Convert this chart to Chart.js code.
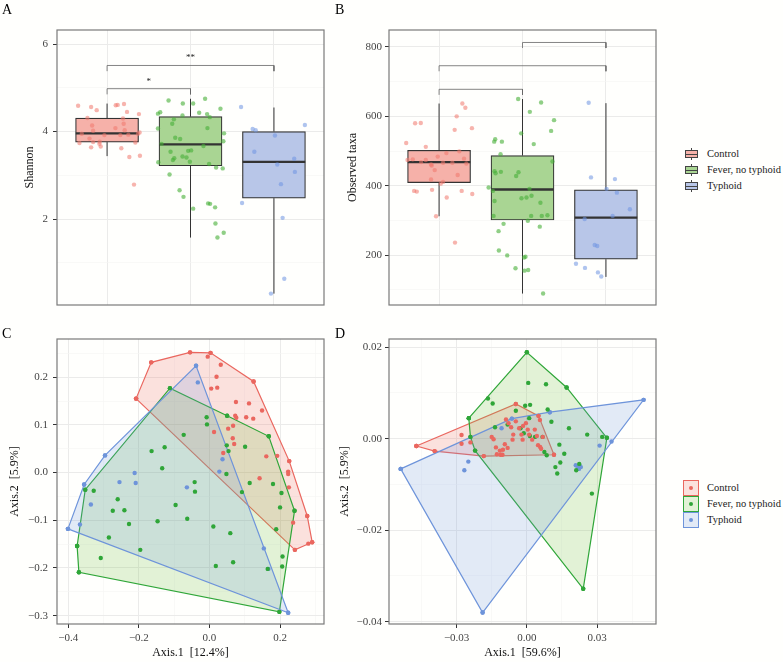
<!DOCTYPE html>
<html>
<head>
<meta charset="utf-8">
<script src="https://cdn.jsdelivr.net/npm/chart.js@4.4.1/dist/chart.umd.min.js"></script>
<style>
  body { margin: 0; background: #fffffd; }
  #fig { position: relative; width: 783px; height: 662px; font-family: "Liberation Serif", serif; }
  #fig canvas { position: absolute; }
  .tag { position: absolute; font-size: 14px; line-height: 1; color: #000; }
  .leg { position: absolute; left: 683px; font-size: 10.5px; color: #1a1a1a; }
  .row { position: relative; height: 16px; line-height: 16px; padding-left: 24px; white-space: nowrap; }
  .bx { position: absolute; left: 2px; top: 2px; width: 13px; height: 12px; }
  .bx i { position: absolute; display: block; }
  .bx .w { left: 6px; top: 0; width: 1px; height: 12px; background: #444; }
  .bx .b { left: 0; top: 2px; width: 11px; height: 6px; border: 1px solid #444; }
  .bx .m { left: 1px; top: 5.5px; width: 11px; height: 1px; background: #444; }
  .pk { position: absolute; left: 0; top: 0; width: 14px; height: 14px; border: 1px solid; }
  .pk i { position: absolute; left: 5px; top: 5px; width: 4px; height: 4px; border-radius: 50%; display: block; }
</style>
</head>
<body>
<div id="fig">
  <canvas id="chartA" width="330" height="320" style="left:0;top:0"></canvas>
  <canvas id="chartB" width="330" height="320" style="left:330px;top:0"></canvas>
  <canvas id="chartC" width="330" height="342" style="left:0;top:320px"></canvas>
  <canvas id="chartD" width="330" height="342" style="left:330px;top:320px"></canvas>
  <div class="tag" style="left:2px;top:3px">A</div>
  <div class="tag" style="left:335px;top:3px">B</div>
  <div class="tag" style="left:2px;top:327px">C</div>
  <div class="tag" style="left:335px;top:327px">D</div>
  <div class="leg" id="legBox" style="top:146px"></div>
  <div class="leg" id="legPts" style="top:480px"></div>
</div>
<script>
const GROUPS = ['Control', 'Fever, no typhoid', 'Typhoid'];

// ---- panel A: Shannon ----
const A_Q1 = [3.76, 3.22, 2.48];
const A_MED = [3.96, 3.71, 3.31];
const A_Q3 = [4.31, 4.34, 4.00];
const A_LO = [3.44, 1.58, 0.30];
const A_HI = [4.64, 4.75, 4.55];
const A_TICKS = [2, 4, 6];
const A_MINOR = [1, 3, 5];
const A_PAIRS = [[1, 2], [1, 3]];
const A_BRACKET_Y = [4.98, 5.51];
const A_SIG = ['*', '**'];
const A_CONTROL = [[0.653,4.59],[0.809,4.56],[0.876,4.49],[1.104,4.60],[1.127,4.61],[1.203,4.63],[1.239,4.45],[1.382,4.40],
  [0.765,4.31],[1.191,4.30],[0.821,4.14],[1.199,4.18],[1.100,4.08],[1.211,4.03],[0.833,4.02],[0.697,3.95],[0.968,3.92],
  [1.159,3.92],[1.255,3.93],[1.390,3.98],[1.371,3.95],[0.789,3.84],[0.669,3.74],[0.833,3.76],[0.912,3.77],[1.339,3.75],
  [0.908,3.72],[0.809,3.64],[0.924,3.66],[1.171,3.62],[1.267,3.42],[1.394,3.45],[1.323,2.79]];
const A_FEVER = [[1.737,4.71],[1.908,4.64],[2.032,4.64],[2.175,4.75],[2.359,4.52],[1.610,4.41],[1.637,4.44],[2.104,4.43],
  [1.904,4.37],[1.801,4.28],[1.781,4.18],[2.199,4.40],[2.231,4.33],[1.610,4.07],[1.653,3.72],[1.817,3.86],[1.876,3.83],
  [2.203,4.08],[2.402,3.96],[2.394,3.78],[2.155,3.67],[1.761,3.54],[1.972,3.56],[2.008,3.57],[1.904,3.43],[1.952,3.41],
  [1.805,3.39],[1.789,3.35],[1.992,3.31],[1.614,3.30],[2.223,3.26],[2.307,3.18],[2.386,3.16],[1.749,3.02],[1.869,2.66],
  [1.916,2.51],[2.032,2.24],[2.211,2.36],[2.235,2.35],[2.295,2.27],[2.299,1.90],[2.323,1.58],[2.398,1.69]];
const A_TYPHOID = [[2.606,4.56],[2.745,4.06],[2.781,4.03],[3.012,3.91],[3.371,4.15],[2.765,3.54],[3.040,3.25],[3.243,3.38],
  [3.251,3.08],[3.084,2.80],[2.618,2.37],[3.104,2.03],[3.124,0.64],[2.964,0.30]];

// ---- panel B: observed taxa ----
const B_Q1 = [409, 301, 188];
const B_MED = [468, 389, 308];
const B_Q3 = [502, 487, 388];
const B_LO = [312, 89, 137];
const B_HI = [637, 650, 638];
const B_TICKS = [200, 400, 600, 800];
const B_MINOR = [100, 300, 500, 700];
const B_PAIRS = [[1, 2], [1, 3], [2, 3]];
const B_BRACKET_Y = [678, 746, 813];
const B_CONTROL = [[0.606,523],[0.713,580],[0.781,581],[0.841,512],[1.279,637],[1.315,625],[1.211,600],[1.187,561],
  [1.394,566],[0.622,474],[0.685,476],[0.785,468],[0.841,474],[0.984,484],[0.904,461],[0.948,445],[0.904,418],[0.912,458],
  [1.088,494],[1.048,466],[1.159,466],[1.243,499],[1.299,478],[1.327,464],[1.223,431],[1.048,411],[1.020,406],[0.701,385],
  [0.733,383],[0.916,388],[1.092,366],[1.271,385],[1.398,376],[0.964,312],[1.191,236]];
const B_FEVER = [[1.948,650],[2.088,613],[2.223,640],[2.378,589],[2.343,558],[1.984,551],[2.135,520],[1.673,534],
  [1.661,527],[1.753,527],[1.737,491],[1.665,442],[1.677,436],[1.741,440],[1.594,395],[1.645,385],[1.952,439],[1.924,428],
  [2.359,470],[1.665,356],[2.084,391],[2.108,371],[2.048,366],[1.988,364],[2.215,351],[2.104,313],[2.064,299],[2.231,313],
  [2.299,315],[1.773,290],[1.653,313],[1.713,269],[2.207,282],[1.717,213],[1.817,199],[1.916,162],[2.020,193],[2.036,195],
  [2.024,155],[2.068,157],[2.247,89]];
const B_TYPHOID = [[2.793,639],[2.821,424],[3.108,419],[3.131,380],[3.080,313],[3.287,332],[2.745,304],[2.865,229],
  [2.896,226],[2.641,175],[2.749,163],[2.904,150],[2.944,138],[3.008,391]];

// ---- panel C: PCoA ----
const C_X_TICKS = [-0.4, -0.2, 0.0, 0.2];
const C_X_MINOR = [-0.3, -0.1, 0.1, 0.3];
const C_Y_TICKS = [-0.3, -0.2, -0.1, 0.0, 0.1, 0.2];
const C_Y_MINOR = [-0.25, -0.15, -0.05, 0.05, 0.15, 0.25];
const C_CONTROL = [[-0.165,0.231],[-0.055,0.252],[0.003,0.251],[-0.005,0.243],[0.032,0.226],[0.020,0.201],[0.005,0.176],
  [0.022,0.178],[0.125,0.191],[0.075,0.148],[0.112,0.145],[0.149,0.130],[0.073,0.119],[0.076,0.115],[0.104,0.116],
  [0.124,0.113],[0.013,0.085],[0.053,0.092],[0.067,0.098],[0.066,0.072],[0.070,0.060],[0.039,0.041],[0.161,0.034],
  [0.192,0.035],[0.226,0.024],[0.223,0.002],[0.223,-0.003],[0.142,-0.012],[0.225,-0.031],[0.237,-0.105],[0.277,-0.091],
  [0.291,-0.146],[0.280,-0.149],[0.242,-0.162],[-0.208,0.155]];
const C_FEVER = [[-0.112,0.177],[-0.008,0.116],[-0.007,0.101],[-0.073,0.079],[0.050,0.119],[0.168,0.076],[-0.164,0.045],
  [-0.127,0.053],[-0.134,0.009],[0.049,0.057],[0.054,0.045],[0.101,0.054],[0.048,-0.003],[-0.042,-0.020],[-0.041,-0.040],
  [0.114,-0.022],[0.180,-0.024],[0.204,-0.043],[0.092,-0.041],[0.200,-0.073],[0.241,-0.080],[-0.328,-0.038],[-0.352,-0.036],
  [-0.260,-0.056],[-0.274,-0.080],[-0.241,-0.079],[-0.228,-0.108],[-0.096,-0.068],[-0.147,-0.102],[-0.063,-0.097],
  [0.011,-0.113],[0.059,-0.127],[0.189,-0.119],[-0.285,-0.136],[-0.375,-0.154],[-0.196,-0.162],[-0.308,-0.179],
  [0.207,-0.176],[0.206,-0.197],[0.018,-0.196],[0.067,-0.188],[0.165,-0.202],[-0.370,-0.209],[0.198,-0.292]];
const C_TYPHOID = [[-0.038,0.224],[-0.033,0.189],[-0.296,0.036],[-0.355,-0.025],[-0.401,-0.118],[-0.367,-0.109],
  [-0.336,-0.067],[-0.255,-0.020],[-0.212,-0.001],[-0.209,-0.022],[-0.064,-0.031],[0.037,0.028],[0.028,0.002],
  [0.154,-0.159],[0.167,-0.202],[0.223,-0.294]];

// ---- panel D: PCoA ----
const D_X_TICKS = [-0.03, 0.00, 0.03];
const D_X_MINOR = [-0.045, -0.015, 0.015, 0.045];
const D_Y_TICKS = [-0.04, -0.02, 0.00, 0.02];
const D_Y_MINOR = [-0.03, -0.01, 0.01];
const D_CONTROL = [[-0.0472,-0.0016],[-0.0394,-0.0027],[-0.0279,0.0008],[-0.0279,-0.0011],[-0.0241,-0.0008],
  [-0.0184,-0.0038],[-0.0047,0.0076],[0.0050,0.0050],[0.0116,-0.0035],[-0.0150,0.0004],[-0.0142,-0.0001],
  [-0.0132,-0.0019],[-0.0115,-0.0026],[-0.0112,-0.0035],[-0.0102,-0.0024],[-0.0094,-0.0012],[-0.0089,0.0042],
  [-0.0078,0.0034],[-0.0067,0.0025],[-0.0058,0.0009],[-0.0047,0.0038],[-0.0033,0.0023],[-0.0023,0.0009],
  [-0.0016,0.0028],[-0.0004,0.0034],[0.0004,0.0020],[0.0010,0.0009],[0.0023,-0.0002],[0.0034,0.0020],[0.0043,0.0006],
  [0.0048,-0.0014],[0.0057,-0.0018],[0.0061,-0.0022],[0.0068,0.0004],[0.0056,0.0041],[-0.0018,-0.0002],
  [-0.0061,-0.0002],[-0.0082,-0.0020],[-0.0104,-0.0035],[-0.0128,-0.0034]];
const D_FEVER = [[0.0000,0.0189],[0.0006,0.0122],[0.0082,0.0119],[0.0170,0.0112],[-0.0166,0.0088],[-0.0146,0.0077],
  [-0.0007,0.0072],[0.0014,0.0074],[-0.0047,0.0061],[0.0089,0.0064],[-0.0248,0.0045],[0.0105,0.0037],[0.0010,0.0045],
  [-0.0082,0.0031],[-0.0136,0.0025],[-0.0027,0.0023],[-0.0013,0.0012],[0.0013,0.0006],[0.0035,0.0004],[0.0067,0.0004],
  [0.0180,0.0023],[0.0258,0.0009],[0.0322,0.0004],[0.0342,0.0002],[-0.0241,0.0004],[-0.0221,-0.0026],[0.0139,-0.0013],
  [0.0160,-0.0033],[0.0075,-0.0029],[0.0085,-0.0036],[0.0122,-0.0062],[0.0130,-0.0076],[0.0143,-0.0052],
  [0.0211,-0.0069],[0.0224,-0.0055],[0.0278,-0.0120],[0.0241,-0.0328]];
const D_TYPHOID = [[-0.0539,-0.0066],[-0.0189,-0.0380],[0.0499,0.0085],[0.0098,0.0058],[-0.0064,0.0044],
  [-0.0108,0.0023],[-0.0250,-0.0050],[-0.0267,-0.0069],[0.0311,-0.0015],[0.0362,-0.0006],[0.0209,-0.0058],
  [0.0217,-0.0061],[0.0226,-0.0059],[0.0231,-0.0062],[0.0223,-0.0066]];

// colours
const LINE_COLORS = ['#EA675F', '#2FA638', '#6E94DA'];
const HULL_FILLS = ['rgba(234,103,95,0.2)', 'rgba(110,190,60,0.2)', 'rgba(110,148,218,0.2)'];
const BOX_FILLS = ['#F6B1A9', '#A9D593', '#B8C6E8'];
const JITTER_COLORS = ['rgba(240,118,108,0.55)', 'rgba(70,175,55,0.6)', 'rgba(110,148,225,0.55)'];
const FONT = "'Liberation Serif', 'DejaVu Serif', serif";
const BOX_HALF = 0.375;

Chart.defaults.font.family = FONT;

const fmt = d => v => (v < 0 ? '\u2212' : '') + Math.abs(v).toFixed(d);

// monotone chain convex hull, closed
function hull(pts) {
  const p = pts.slice().sort((a, b) => a[0] - b[0] || a[1] - b[1]);
  const cross = (o, a, b) => (a[0] - o[0]) * (b[1] - o[1]) - (a[1] - o[1]) * (b[0] - o[0]);
  const lower = [], upper = [];
  for (const q of p) {
    while (lower.length >= 2 && cross(lower[lower.length - 2], lower[lower.length - 1], q) <= 0) lower.pop();
    lower.push(q);
  }
  for (let i = p.length - 1; i >= 0; i--) {
    const q = p[i];
    while (upper.length >= 2 && cross(upper[upper.length - 2], upper[upper.length - 1], q) <= 0) upper.pop();
    upper.push(q);
  }
  const h = lower.slice(0, -1).concat(upper.slice(0, -1));
  h.push(h[0]);
  return h;
}

function makeAxis(o) {
  const horiz = o.position === 'bottom';
  const showLabels = o.labels !== false;
  return {
    type: 'linear', position: o.position, min: o.min, max: o.max, offset: false,
    afterBuildTicks: s => {
      s.ticks = o.major.map(v => ({ value: v, minor: false }))
        .concat(o.minor.map(v => ({ value: v, minor: true })))
        .sort((a, b) => a.value - b.value);
    },
    afterFit: s => { if (horiz) s.height = o.size; else s.width = o.size; },
    grid: {
      offset: false,
      color: c => (c.tick && c.tick.minor) ? '#F5F5F4' : '#EBEBEA',
      lineWidth: c => (c.tick && c.tick.minor) ? 0.6 : 1,
      drawTicks: showLabels,
      tickLength: 4,
      tickWidth: 1,
      tickColor: c => (c.tick && c.tick.minor) ? 'rgba(0,0,0,0)' : '#333'
    },
    border: { display: false },
    ticks: {
      display: showLabels, autoSkip: false, maxRotation: 0, padding: o.pad || 4,
      color: '#444', font: { family: FONT, size: 11 },
      callback: (v, i, t) => t[i].minor ? '' : o.fmt(v)
    },
    title: o.title
      ? { display: true, text: o.title, color: '#111', font: { family: FONT, size: 12 }, padding: o.titlePad }
      : { display: false }
  };
}

const panelBorder = {
  id: 'panelBorder',
  afterDraw(chart) {
    const { ctx, chartArea: a } = chart;
    ctx.save();
    ctx.strokeStyle = '#7a7a7a';
    ctx.lineWidth = 1.2;
    ctx.strokeRect(a.left, a.top, a.right - a.left, a.bottom - a.top);
    ctx.restore();
  }
};

const sigLabels = {
  id: 'sigLabels',
  afterDatasetsDraw(chart, args, opts) {
    if (!opts || !opts.items) return;
    const { ctx, scales: { x, y } } = chart;
    ctx.save();
    ctx.fillStyle = '#222';
    ctx.font = "9px 'Liberation Serif', serif";
    ctx.textAlign = 'center';
    ctx.textBaseline = 'bottom';
    opts.items.forEach(it => ctx.fillText(it.text, x.getPixelForValue(it.x), y.getPixelForValue(it.y) - 3));
    ctx.restore();
  }
};

Chart.register(panelBorder, sigLabels);

function boxChart(id, c) {
  const ds = [];
  ds.push({
    type: 'bar',
    data: GROUPS.map((g, i) => ({ x: i + 1, y: [c.q1[i], c.q3[i]] })),
    backgroundColor: BOX_FILLS, borderColor: '#333', borderWidth: 1.2, borderSkipped: false,
    barThickness: 63, order: 5
  });
  const whisk = [], med = [], br = [];
  GROUPS.forEach((g, i) => {
    whisk.push({ x: i + 1, y: c.lo[i] }, { x: i + 1, y: c.q1[i] }, { x: i + 1, y: null },
      { x: i + 1, y: c.q3[i] }, { x: i + 1, y: c.hi[i] }, { x: i + 1, y: null });
    med.push({ x: i + 1 - BOX_HALF, y: c.med[i] }, { x: i + 1 + BOX_HALF, y: c.med[i] }, { x: i + 1, y: null });
  });
  c.pairs.forEach((p, k) => {
    const h = c.bracketY[k];
    br.push({ x: p[0], y: h - c.tip }, { x: p[0], y: h }, { x: p[1], y: h }, { x: p[1], y: h - c.tip }, { x: p[1], y: null });
  });
  ds.push({ type: 'line', data: whisk, borderColor: '#333', borderWidth: 1, pointRadius: 0, spanGaps: false, order: 4 });
  ds.push({ type: 'line', data: med, borderColor: '#333', borderWidth: 2.3, pointRadius: 0, spanGaps: false, order: 3 });
  ds.push({ type: 'line', data: br, borderColor: '#666', borderWidth: 0.8, pointRadius: 0, spanGaps: false, order: 2 });
  c.points.forEach((pts, i) => ds.push({
    type: 'scatter', data: pts.map(p => ({ x: p[0], y: p[1] })),
    backgroundColor: JITTER_COLORS[i], borderWidth: 0, pointRadius: 2.2, order: 1
  }));
  const sig = (c.sig || []).map((t, k) => ({ text: t, x: (c.pairs[k][0] + c.pairs[k][1]) / 2, y: c.bracketY[k] }));
  new Chart(document.getElementById(id), {
    type: 'bar',
    data: { datasets: ds },
    options: {
      responsive: false, animation: false, devicePixelRatio: 1,
      layout: { padding: c.padding },
      plugins: { legend: { display: false }, tooltip: { enabled: false }, sigLabels: { items: sig } },
      scales: {
        x: makeAxis({ position: 'bottom', min: 0.4, max: 3.6, major: [1, 2, 3], minor: [], labels: false, size: 0, fmt: String }),
        y: makeAxis({ position: 'left', min: c.min, max: c.max, major: c.ticks, minor: c.minor, size: c.ySize,
          fmt: fmt(0), title: c.title, titlePad: { top: c.titleTop }, pad: c.tickPad })
      }
    }
  });
}

function pcoaChart(id, c) {
  const ds = [];
  c.groups.forEach((pts, i) => ds.push({
    type: 'line', data: hull(pts).map(p => ({ x: p[0], y: p[1] })),
    borderColor: LINE_COLORS[i], backgroundColor: HULL_FILLS[i], borderWidth: 1.2,
    fill: 'shape', pointRadius: 2.2, pointBackgroundColor: LINE_COLORS[i], pointBorderWidth: 0,
    tension: 0, order: 5 - i
  }));
  c.groups.forEach((pts, i) => ds.push({
    type: 'scatter', data: pts.map(p => ({ x: p[0], y: p[1] })),
    backgroundColor: LINE_COLORS[i], borderWidth: 0, pointRadius: 2.2, order: 1
  }));
  new Chart(document.getElementById(id), {
    type: 'scatter',
    data: { datasets: ds },
    options: {
      responsive: false, animation: false, devicePixelRatio: 1,
      layout: { padding: c.padding },
      plugins: { legend: { display: false }, tooltip: { enabled: false } },
      scales: {
        x: makeAxis({ position: 'bottom', min: c.xMin, max: c.xMax, major: c.xTicks, minor: c.xMinor, size: 38,
          fmt: fmt(c.digits), title: c.xTitle, titlePad: { bottom: 2 }, pad: 4 }),
        y: makeAxis({ position: 'left', min: c.yMin, max: c.yMax, major: c.yTicks, minor: c.yMinor, size: c.ySize,
          fmt: fmt(c.digits), title: c.yTitle, titlePad: { top: 8 }, pad: c.tickPad })
      }
    }
  });
}

boxChart('chartA', {
  q1: A_Q1, med: A_MED, q3: A_Q3, lo: A_LO, hi: A_HI, points: [A_CONTROL, A_FEVER, A_TYPHOID],
  pairs: A_PAIRS, bracketY: A_BRACKET_Y, tip: 0.13, sig: A_SIG,
  min: 0.04, max: 6.32, ticks: A_TICKS, minor: A_MINOR,
  title: 'Shannon', titleTop: 23, ySize: 57, tickPad: 5,
  padding: { left: 0, top: 30, right: 6, bottom: 15 }
});
boxChart('chartB', {
  q1: B_Q1, med: B_MED, q3: B_Q3, lo: B_LO, hi: B_HI, points: [B_CONTROL, B_FEVER, B_TYPHOID],
  pairs: B_PAIRS, bracketY: B_BRACKET_Y, tip: 16,
  min: 56, max: 849, ticks: B_TICKS, minor: B_MINOR,
  title: 'Observed taxa', titleTop: 16, ySize: 59, tickPad: 3,
  padding: { left: 0, top: 30, right: 3, bottom: 15 }
});
pcoaChart('chartC', {
  groups: [C_CONTROL, C_FEVER, C_TYPHOID], digits: 1,
  xMin: -0.432, xMax: 0.3245, yMin: -0.3175, yMax: 0.280,
  xTicks: C_X_TICKS, xMinor: C_X_MINOR, yTicks: C_Y_TICKS, yMinor: C_Y_MINOR,
  xTitle: 'Axis.1  [12.4%]', yTitle: 'Axis.2  [5.9%]', ySize: 57, tickPad: 5,
  padding: { left: 0, top: 19, right: 6, bottom: 0 }
});
pcoaChart('chartD', {
  groups: [D_CONTROL, D_FEVER, D_TYPHOID], digits: 2,
  xMin: -0.0589, xMax: 0.0552, yMin: -0.0405, yMax: 0.0218,
  xTicks: D_X_TICKS, xMinor: D_X_MINOR, yTicks: D_Y_TICKS, yMinor: D_Y_MINOR,
  xTitle: 'Axis.1  [59.6%]', yTitle: 'Axis.2  [5.9%]', ySize: 59, tickPad: 3,
  padding: { left: 0, top: 19, right: 3, bottom: 0 }
});

// legends
const legBox = document.getElementById('legBox');
const legPts = document.getElementById('legPts');
GROUPS.forEach((g, i) => {
  legBox.insertAdjacentHTML('beforeend',
    '<div class="row"><span class="bx"><i class="w"></i><i class="b" style="background:' + BOX_FILLS[i] +
    '"></i><i class="m"></i></span>' + g + '</div>');
  legPts.insertAdjacentHTML('beforeend',
    '<div class="row"><span class="pk" style="border-color:' + LINE_COLORS[i] + ';background:' + HULL_FILLS[i] +
    '"><i style="background:' + LINE_COLORS[i] + '"></i></span>' + g + '</div>');
});
</script>
</body>
</html>
